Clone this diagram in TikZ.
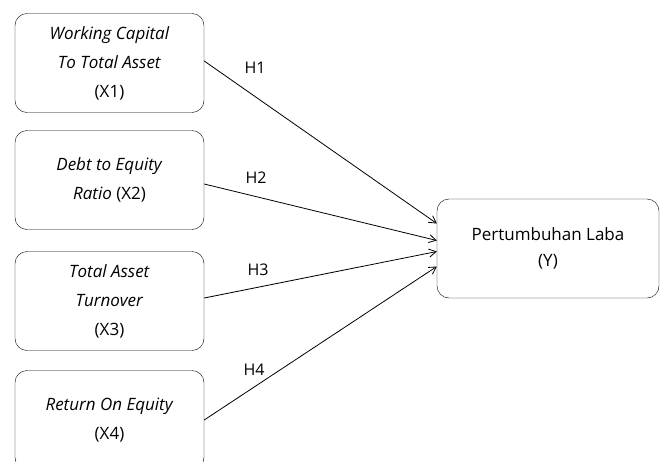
\documentclass[tikz,border=0pt]{standalone}
\usepackage{fontspec}
\setmainfont{Open Sans}
\usetikzlibrary{arrows.meta}
\tikzset{
  varbox/.style={draw,rounded corners=12pt,minimum width=189pt,minimum height=99pt,
    align=center,font=\fontsize{17}{29}\selectfont,inner sep=2pt},
  hyp/.style={-{Straight Barb[length=7pt,width=8pt]},line width=0.8pt},
  hlabel/.style={font=\fontsize{16}{18}\selectfont}
}
\begin{document}
\begin{tikzpicture}[x=1pt,y=-1pt]
  \useasboundingbox (0,0) rectangle (662,461);
  \node[varbox] (x1) at (109.5,63) {\textit{Working Capital}\\\textit{To Total Asset}\\(X1)};
  \node[varbox] (x2) at (109.5,180) {\textit{Debt to Equity}\\\textit{Ratio} (X2)};
  \node[varbox] (x3) at (109.5,301) {\textit{Total Asset}\\\textit{Turnover}\\(X3)};
  \node[varbox] (x4) at (109.5,420) {\textit{Return On Equity}\\(X4)};
  \node[varbox,minimum width=222pt,font=\fontsize{17}{26}\selectfont] (y) at (548,248.5) {Pertumbuhan Laba\\(Y)};
  \draw[hyp] ([yshift=2pt]x1.east) -- ([yshift=25pt]y.west);
  \draw[hyp] ([yshift=-4pt]x2.east) -- ([yshift=8pt]y.west);
  \draw[hyp] ([yshift=3pt]x3.east) -- ([yshift=-3pt]y.west);
  \draw[hyp] (x4.east) -- ([yshift=-18pt]y.west);
  \node[hlabel] (h1) at (255,68) {H1};
  \node[hlabel] (h2) at (256,178) {H2};
  \node[hlabel] (h3) at (258,270) {H3};
  \node[hlabel] (h4) at (254,370) {H4};
\end{tikzpicture}
\end{document}
